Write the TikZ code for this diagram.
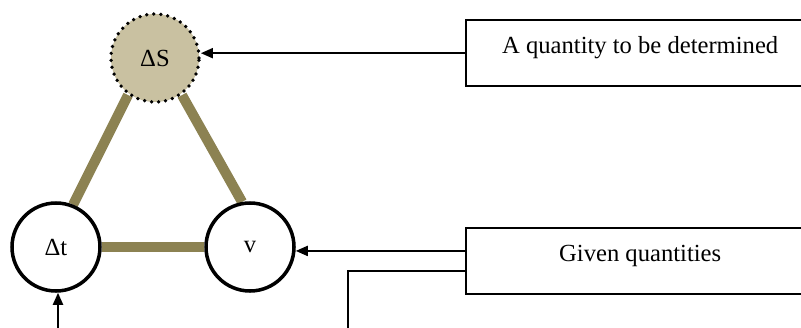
\documentclass[tikz,border=0pt]{standalone}
\usepackage{fontspec}
\setmainfont{Liberation Serif}
\usetikzlibrary{arrows.meta,calc,backgrounds}

\definecolor{olivebar}{RGB}{140,130,82}
\definecolor{tanfill}{RGB}{201,193,161}

\begin{document}
\begin{tikzpicture}[x=0.03cm,y=-0.03cm,
  qty/.style={circle,draw,line width=3pt,fill=white,minimum size=2.64cm,inner sep=0pt,
    font=\fontsize{21}{25}\selectfont},
  lbl/.style={draw,line width=2pt,minimum width=10.44cm,minimum height=1.98cm,anchor=north west,
    text height=14pt,text depth=14pt,font=\fontsize{21}{25}\selectfont},
  ptr/.style={line width=1.7pt,-{Triangle[length=3.6mm,width=3mm]}},
  wire/.style={line width=1.7pt},
  bar/.style={line width=8.6pt,olivebar}]
  \useasboundingbox (0,0) rectangle (801,327);
  \clip (0,0) rectangle (801,327);
  % the three quantities
  \node[qty,fill=tanfill,dash pattern=on 0pt off 6pt,line cap=round,line width=3.2pt] (dS) at (155,58) {ΔS};
  \node[qty] (dt) at (56,247) {Δt};
  \node[qty] (v) at (250,247) {v};
  \begin{pgfonlayer}{background}
    \draw[bar] (dS.234) -- (dt.68);
    \draw[bar] (dS.306) -- (v.100);
    \draw[bar] (dt.east) -- (v.west);
  \end{pgfonlayer}
  % the two label boxes (cut at the right edge)
  \node[lbl] (det) at (465,19) {A quantity to be determined};
  \node[lbl] (giv) at (465,227) {Given quantities};
  \coordinate (g1) at ($(giv.north west)!.35!(giv.south west)$);
  \coordinate (g2) at ($(giv.north west)!.64!(giv.south west)$);
  \coordinate (o1) at (348,340);
  \coordinate (o2) at (58,340);
  \draw[ptr] (det.west) -- (det.west -| dS.east);
  \draw[ptr] (g1) -- (g1 -| v.east);
  \draw[wire] (g2) -| (o1);
  \draw[ptr] (o2) -- (o2 |- dt.south);
\end{tikzpicture}
\end{document}
